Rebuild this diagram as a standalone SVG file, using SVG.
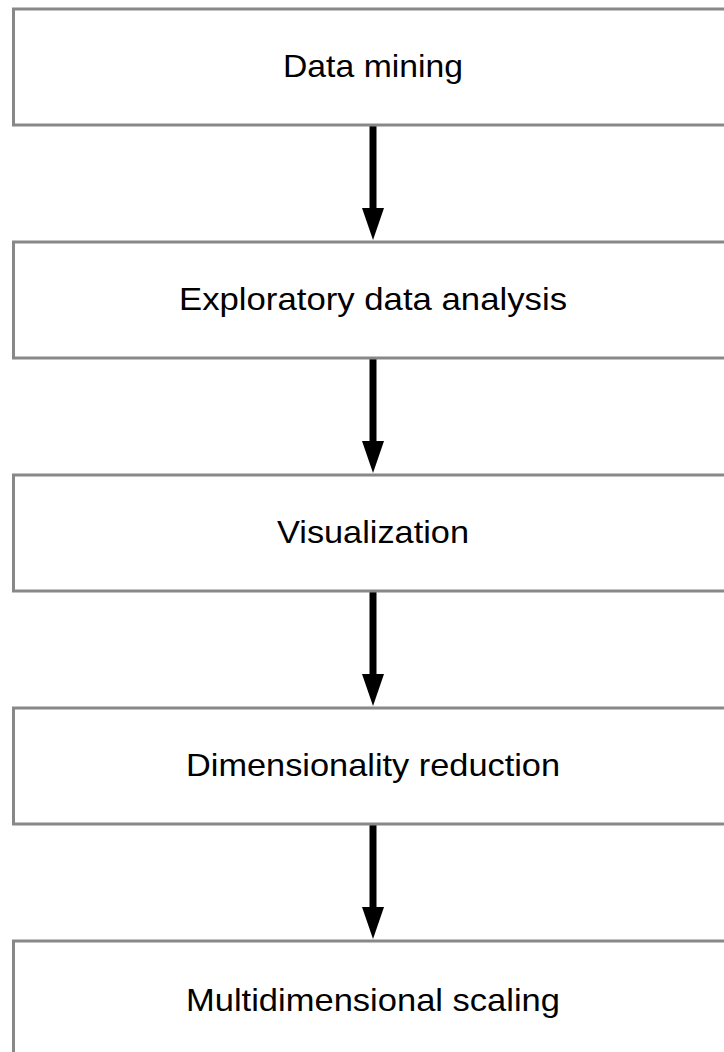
<svg xmlns="http://www.w3.org/2000/svg" width="724" height="1052" viewBox="0 0 724 1052">
<style>
.box{fill:#ffffff;stroke:#888888;stroke-width:3}
.lbl{font-family:"Liberation Sans",Arial,sans-serif;font-size:32px;fill:#000000;text-anchor:middle}
.shaft{stroke:#000000;stroke-width:7;fill:none}
.head{fill:#000000}
</style>
<rect width="724" height="1052" fill="#ffffff"/>
<g id="connectors">
<line class="shaft" x1="373" y1="126" x2="373" y2="210"/>
<polygon class="head" points="362,208 384,208 373,240"/>
<line class="shaft" x1="373" y1="359" x2="373" y2="443"/>
<polygon class="head" points="362,441 384,441 373,473"/>
<line class="shaft" x1="373" y1="592" x2="373" y2="676"/>
<polygon class="head" points="362,674 384,674 373,706"/>
<line class="shaft" x1="373" y1="825" x2="373" y2="909"/>
<polygon class="head" points="362,907 384,907 373,939"/>
</g>
<g id="n1"><rect class="box" x="13.5" y="9" width="719" height="116"/><text class="lbl" x="373" y="77" textLength="180" lengthAdjust="spacingAndGlyphs">Data mining</text></g>
<g id="n2"><rect class="box" x="13.5" y="242" width="719" height="116"/><text class="lbl" x="373" y="310" textLength="388" lengthAdjust="spacingAndGlyphs">Exploratory data analysis</text></g>
<g id="n3"><rect class="box" x="13.5" y="475" width="719" height="116"/><text class="lbl" x="373" y="543" textLength="192" lengthAdjust="spacingAndGlyphs">Visualization</text></g>
<g id="n4"><rect class="box" x="13.5" y="708" width="719" height="116"/><text class="lbl" x="373" y="776" textLength="374" lengthAdjust="spacingAndGlyphs">Dimensionality reduction</text></g>
<g id="n5"><rect class="box" x="13.5" y="941" width="719" height="116"/><text class="lbl" x="373" y="1011" textLength="374" lengthAdjust="spacingAndGlyphs">Multidimensional scaling</text></g>
</svg>
